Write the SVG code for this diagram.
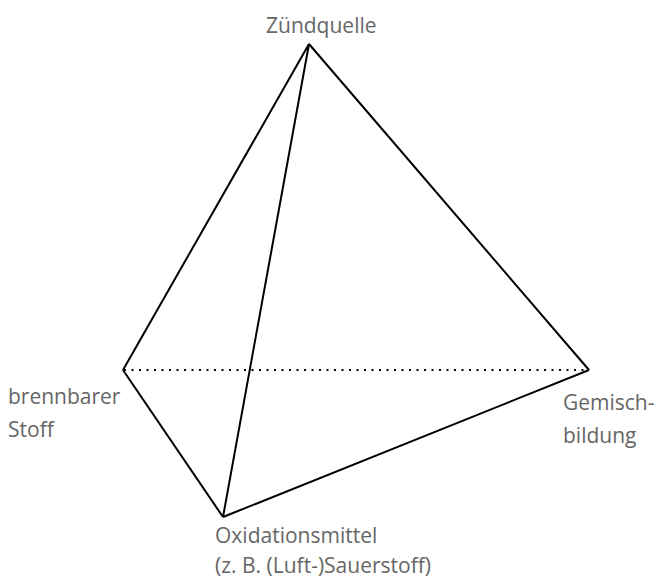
<svg xmlns="http://www.w3.org/2000/svg" width="656" height="578" viewBox="0 0 656 578">
<style>
.lbl{font-family:"Open Sans","Noto Sans",sans-serif;font-size:21px;fill:#666}
.edge{stroke:#000;stroke-width:2;fill:none}
.hidden{stroke:#000;stroke-width:2;fill:none;stroke-dasharray:2 5.5}
</style>
<rect width="656" height="578" fill="#fff"/>
<g id="connectors">
<line class="hidden" x1="124" y1="370" x2="588" y2="370"/>
<line class="edge" x1="309" y1="44" x2="123" y2="370"/>
<line class="edge" x1="309" y1="44" x2="589" y2="370"/>
<line class="edge" x1="309" y1="44" x2="223" y2="517"/>
<line class="edge" x1="123" y1="370" x2="223" y2="517"/>
<line class="edge" x1="223" y1="517" x2="589" y2="370"/>
</g>
<g id="zuendquelle"><text class="lbl" x="266" y="33">Zündquelle</text></g>
<g id="brennbarer-stoff"><text class="lbl" x="8" y="404">brennbarer</text><text class="lbl" x="8" y="437">Stoff</text></g>
<g id="gemischbildung"><text class="lbl" x="563" y="410">Gemisch-</text><text class="lbl" x="563" y="443">bildung</text></g>
<g id="oxidationsmittel"><text class="lbl" x="215" y="543">Oxidationsmittel</text><text class="lbl" x="215" y="573">(z. B. (Luft-)Sauerstoff)</text></g>
</svg>
